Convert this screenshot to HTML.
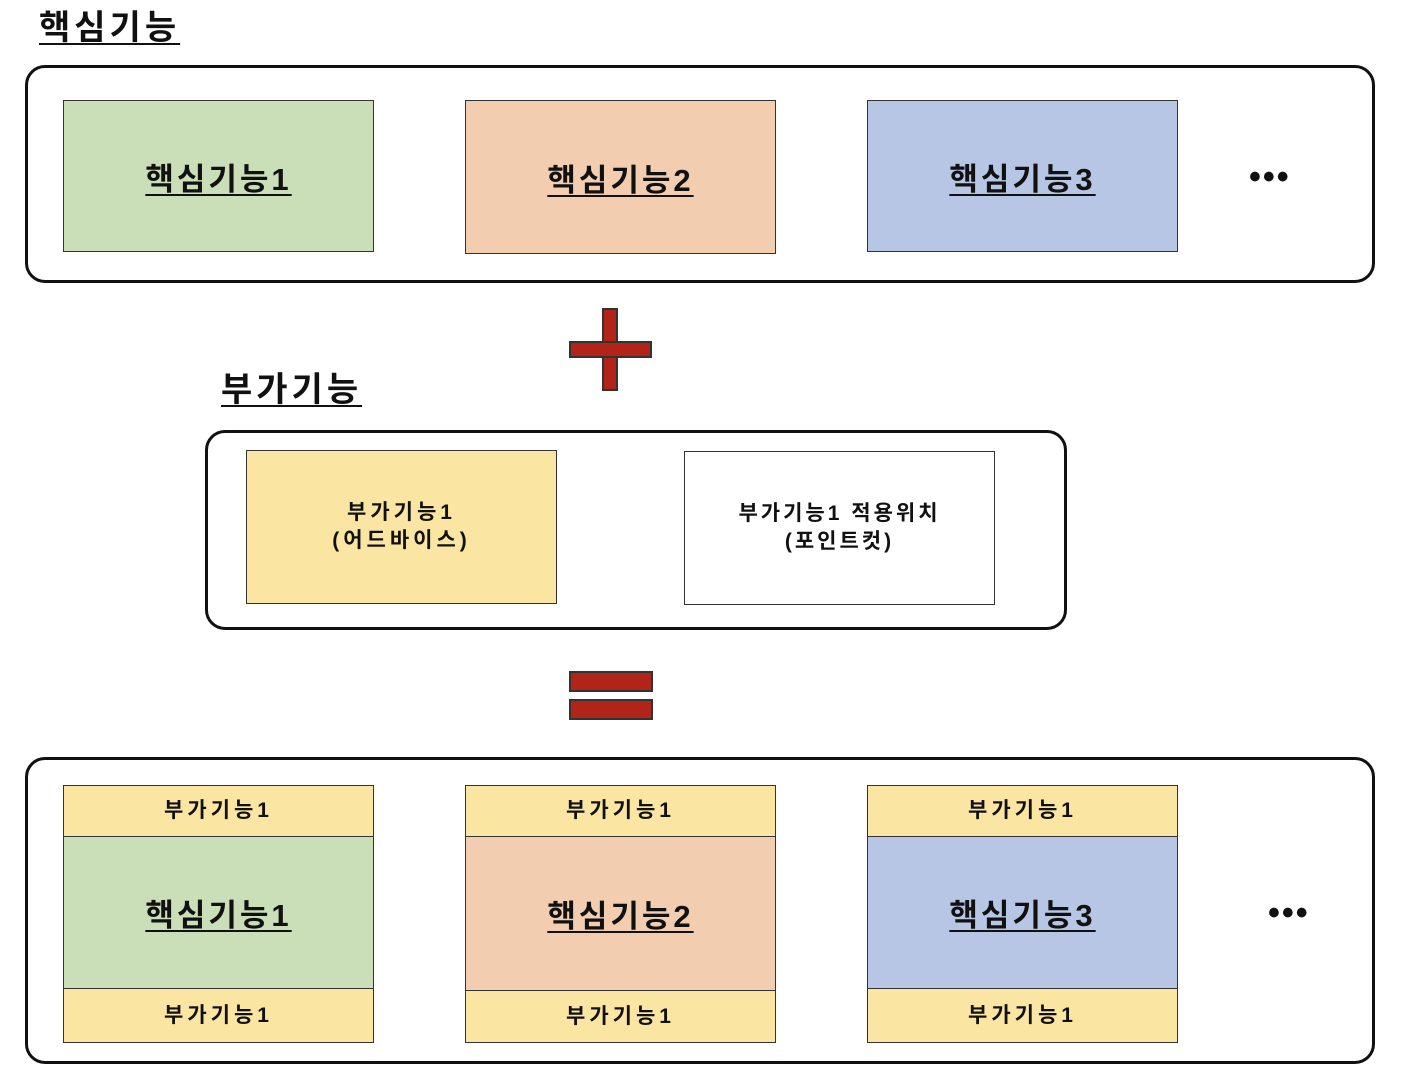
<!DOCTYPE html>
<html><head><meta charset="utf-8"><style>
body{margin:0;width:1402px;height:1088px;background:#fff;position:relative;overflow:hidden;font-family:"Liberation Sans","Noto Sans CJK KR",sans-serif;font-weight:bold;color:#111}
.a{position:absolute;box-sizing:border-box}
.c{border:3px solid #111;border-radius:20px}
.b{border:1.5px solid #333;display:flex;align-items:center;justify-content:center;text-align:center}
.u{text-decoration:underline;text-decoration-thickness:2px;text-underline-offset:4px}
.big{font-size:31px;letter-spacing:3px}
.sm{font-size:21px;line-height:28px;letter-spacing:4px}
.g{background:#cadfb8}.o{background:#f2cdb0}.bl{background:#b7c6e5}.y{background:#fae5a2}
.r{background:#b22418;border:2px solid #333}
.dots{font-size:34px;letter-spacing:2px}
</style></head><body>
<div class="a u" style="left:39px;top:0px;font-size:34px;letter-spacing:4px">핵심기능</div>
<div class="a c" style="left:25px;top:65px;width:1350px;height:218px"></div>
<div class="a b g" style="left:63px;top:100px;width:311px;height:152px"><span class="u big">핵심기능1</span></div>
<div class="a b o" style="left:465px;top:100px;width:311px;height:154px"><span class="u big">핵심기능2</span></div>
<div class="a b bl" style="left:867px;top:100px;width:311px;height:152px"><span class="u big">핵심기능3</span></div>
<div class="a dots" style="left:1249px;top:158px">•••</div>

<div class="a r" style="left:602px;top:308px;width:16px;height:83px"></div>
<div class="a r" style="left:569px;top:341px;width:83px;height:17px"></div>
<div class="a r" style="left:604px;top:343px;width:12px;height:13px;border:none"></div>

<div class="a u" style="left:221px;top:362px;font-size:34px;letter-spacing:4px">부가기능</div>
<div class="a c" style="left:205px;top:430px;width:862px;height:200px"></div>
<div class="a b y" style="left:246px;top:450px;width:311px;height:154px"><span class="sm">부가기능1<br>(어드바이스)</span></div>
<div class="a b" style="left:684px;top:451px;width:311px;height:154px;background:#fff"><span class="sm" style="letter-spacing:3px">부가기능1 적용위치<br>(포인트컷)</span></div>

<div class="a r" style="left:569px;top:671px;width:84px;height:21px"></div>
<div class="a r" style="left:569px;top:699px;width:84px;height:21px"></div>

<div class="a c" style="left:25px;top:757px;width:1350px;height:307px"></div>
<div class="a b y sm" style="left:63px;top:785px;width:311px;height:52px">부가기능1</div>
<div class="a b g" style="left:63px;top:836px;width:311px;height:153px"><span class="u big">핵심기능1</span></div>
<div class="a b y sm" style="left:63px;top:988px;width:311px;height:55px">부가기능1</div>
<div class="a b y sm" style="left:465px;top:785px;width:311px;height:52px">부가기능1</div>
<div class="a b o" style="left:465px;top:836px;width:311px;height:155px"><span class="u big">핵심기능2</span></div>
<div class="a b y sm" style="left:465px;top:990px;width:311px;height:53px">부가기능1</div>
<div class="a b y sm" style="left:867px;top:785px;width:311px;height:52px">부가기능1</div>
<div class="a b bl" style="left:867px;top:836px;width:311px;height:153px"><span class="u big">핵심기능3</span></div>
<div class="a b y sm" style="left:867px;top:988px;width:311px;height:55px">부가기능1</div>
<div class="a dots" style="left:1268px;top:894px">•••</div>
</body></html>
